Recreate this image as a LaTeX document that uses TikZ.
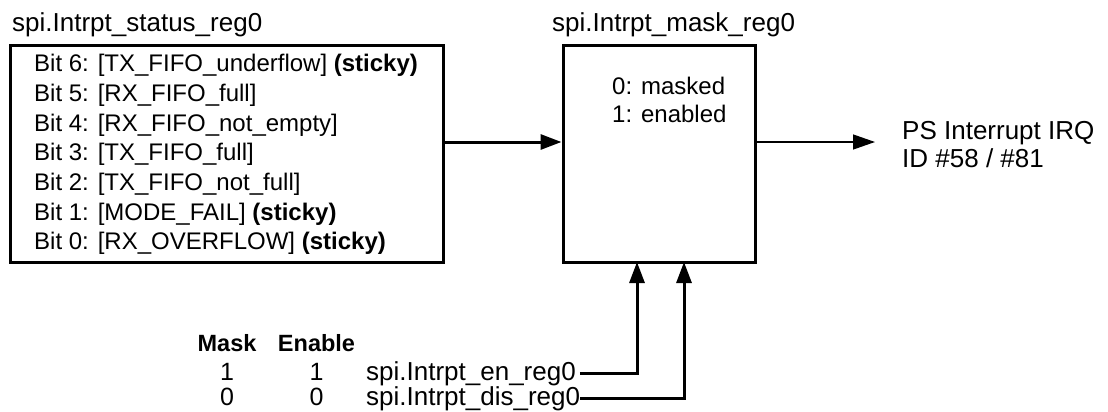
\documentclass[tikz,border=0pt]{standalone}
\usepackage{fontspec}
\setmainfont{Liberation Sans}
\usetikzlibrary{arrows.meta}

\tikzset{
  regbox/.style={draw, line width=3pt, inner sep=0pt},
  regtitle/.style={anchor=base west, inner sep=0pt, font=\fontsize{26}{31}\selectfont},
  bittext/.style={anchor=base west, inner sep=0pt, font=\fontsize{24}{29}\selectfont},
  hdtext/.style={anchor=base, inner sep=0pt, font=\fontsize{23.5}{28}\selectfont\bfseries},
  numtext/.style={anchor=base, inner sep=0pt, font=\fontsize{25}{30}\selectfont},
  sigline/.style={line width=3pt, -{Triangle[length=21pt,width=15pt]}},
  irqline/.style={line width=1.3pt, -{Triangle[length=22pt,width=15pt]}}
}

\begin{document}
\begin{tikzpicture}[x=1pt,y=-1pt]
      \useasboundingbox (0,0) rectangle (1108,412);
      % status register
      \node[regtitle] (statustitle) at (12,32) {spi.Intrpt\_status\_reg0};
      \node[regbox, minimum width=433pt, minimum height=216pt] (status) at (226.5,154) {};
      \foreach \n/\txt [count=\i from 0] in {6/{[TX\_FIFO\_underflow] \textbf{(sticky)}},
                                          5/{[RX\_FIFO\_full]},
                                          4/{[RX\_FIFO\_not\_empty]},
                                          3/{[TX\_FIFO\_full]},
                                          2/{[TX\_FIFO\_not\_full]},
                                          1/{[MODE\_FAIL] \textbf{(sticky)}},
                                          0/{[RX\_OVERFLOW] \textbf{(sticky)}}}
        \node[bittext] (bit\n) at (34,{71.6+29.7*\i}) {Bit \n: \txt};
      % mask register
      \node[regtitle] (masktitle) at (552,32) {spi.Intrpt\_mask\_reg0};
      \node[regbox, minimum width=192pt, minimum height=216pt] (mask) at (659,154) {};
      \node[bittext] (masked) at (612,94) {0: masked};
      \node[bittext] (enabled) at (612,122) {1: enabled};
      \coordinate (sig) at (0,142);
      \draw[sigline] (status.east |- sig) -- (mask.west |- sig);
      % interrupt output
      \coordinate (irqtip) at (875,142);
      \draw[irqline] (mask.east |- sig) -- (irqtip);
      \node[regtitle] (irq) at (902,139) {PS Interrupt IRQ};
      \node[regtitle] (irqid) at (902,167) {ID \#58 / \#81};
      % enable / disable registers
      \node[hdtext] (maskhd) at (227,351) {Mask};
      \node[hdtext] (enhd) at (316.5,351) {Enable};
      \node[numtext] (m1) at (227,380) {1};
      \node[numtext] (e1) at (316.5,380) {1};
      \node[numtext] (m0) at (227,405.5) {0};
      \node[numtext] (e0) at (316.5,405.5) {0};
      \node[regtitle] (en) at (366,380) {spi.Intrpt\_en\_reg0};
      \node[regtitle] (dis) at (366,405.5) {spi.Intrpt\_dis\_reg0};
      \coordinate (enin) at (637,262);
      \coordinate (disin) at (684,262);
      \draw[sigline] ([xshift=4pt]en.east) -| (enin);
      \draw[sigline] (dis.east) -| (disin);
    \end{tikzpicture}
\end{document}
